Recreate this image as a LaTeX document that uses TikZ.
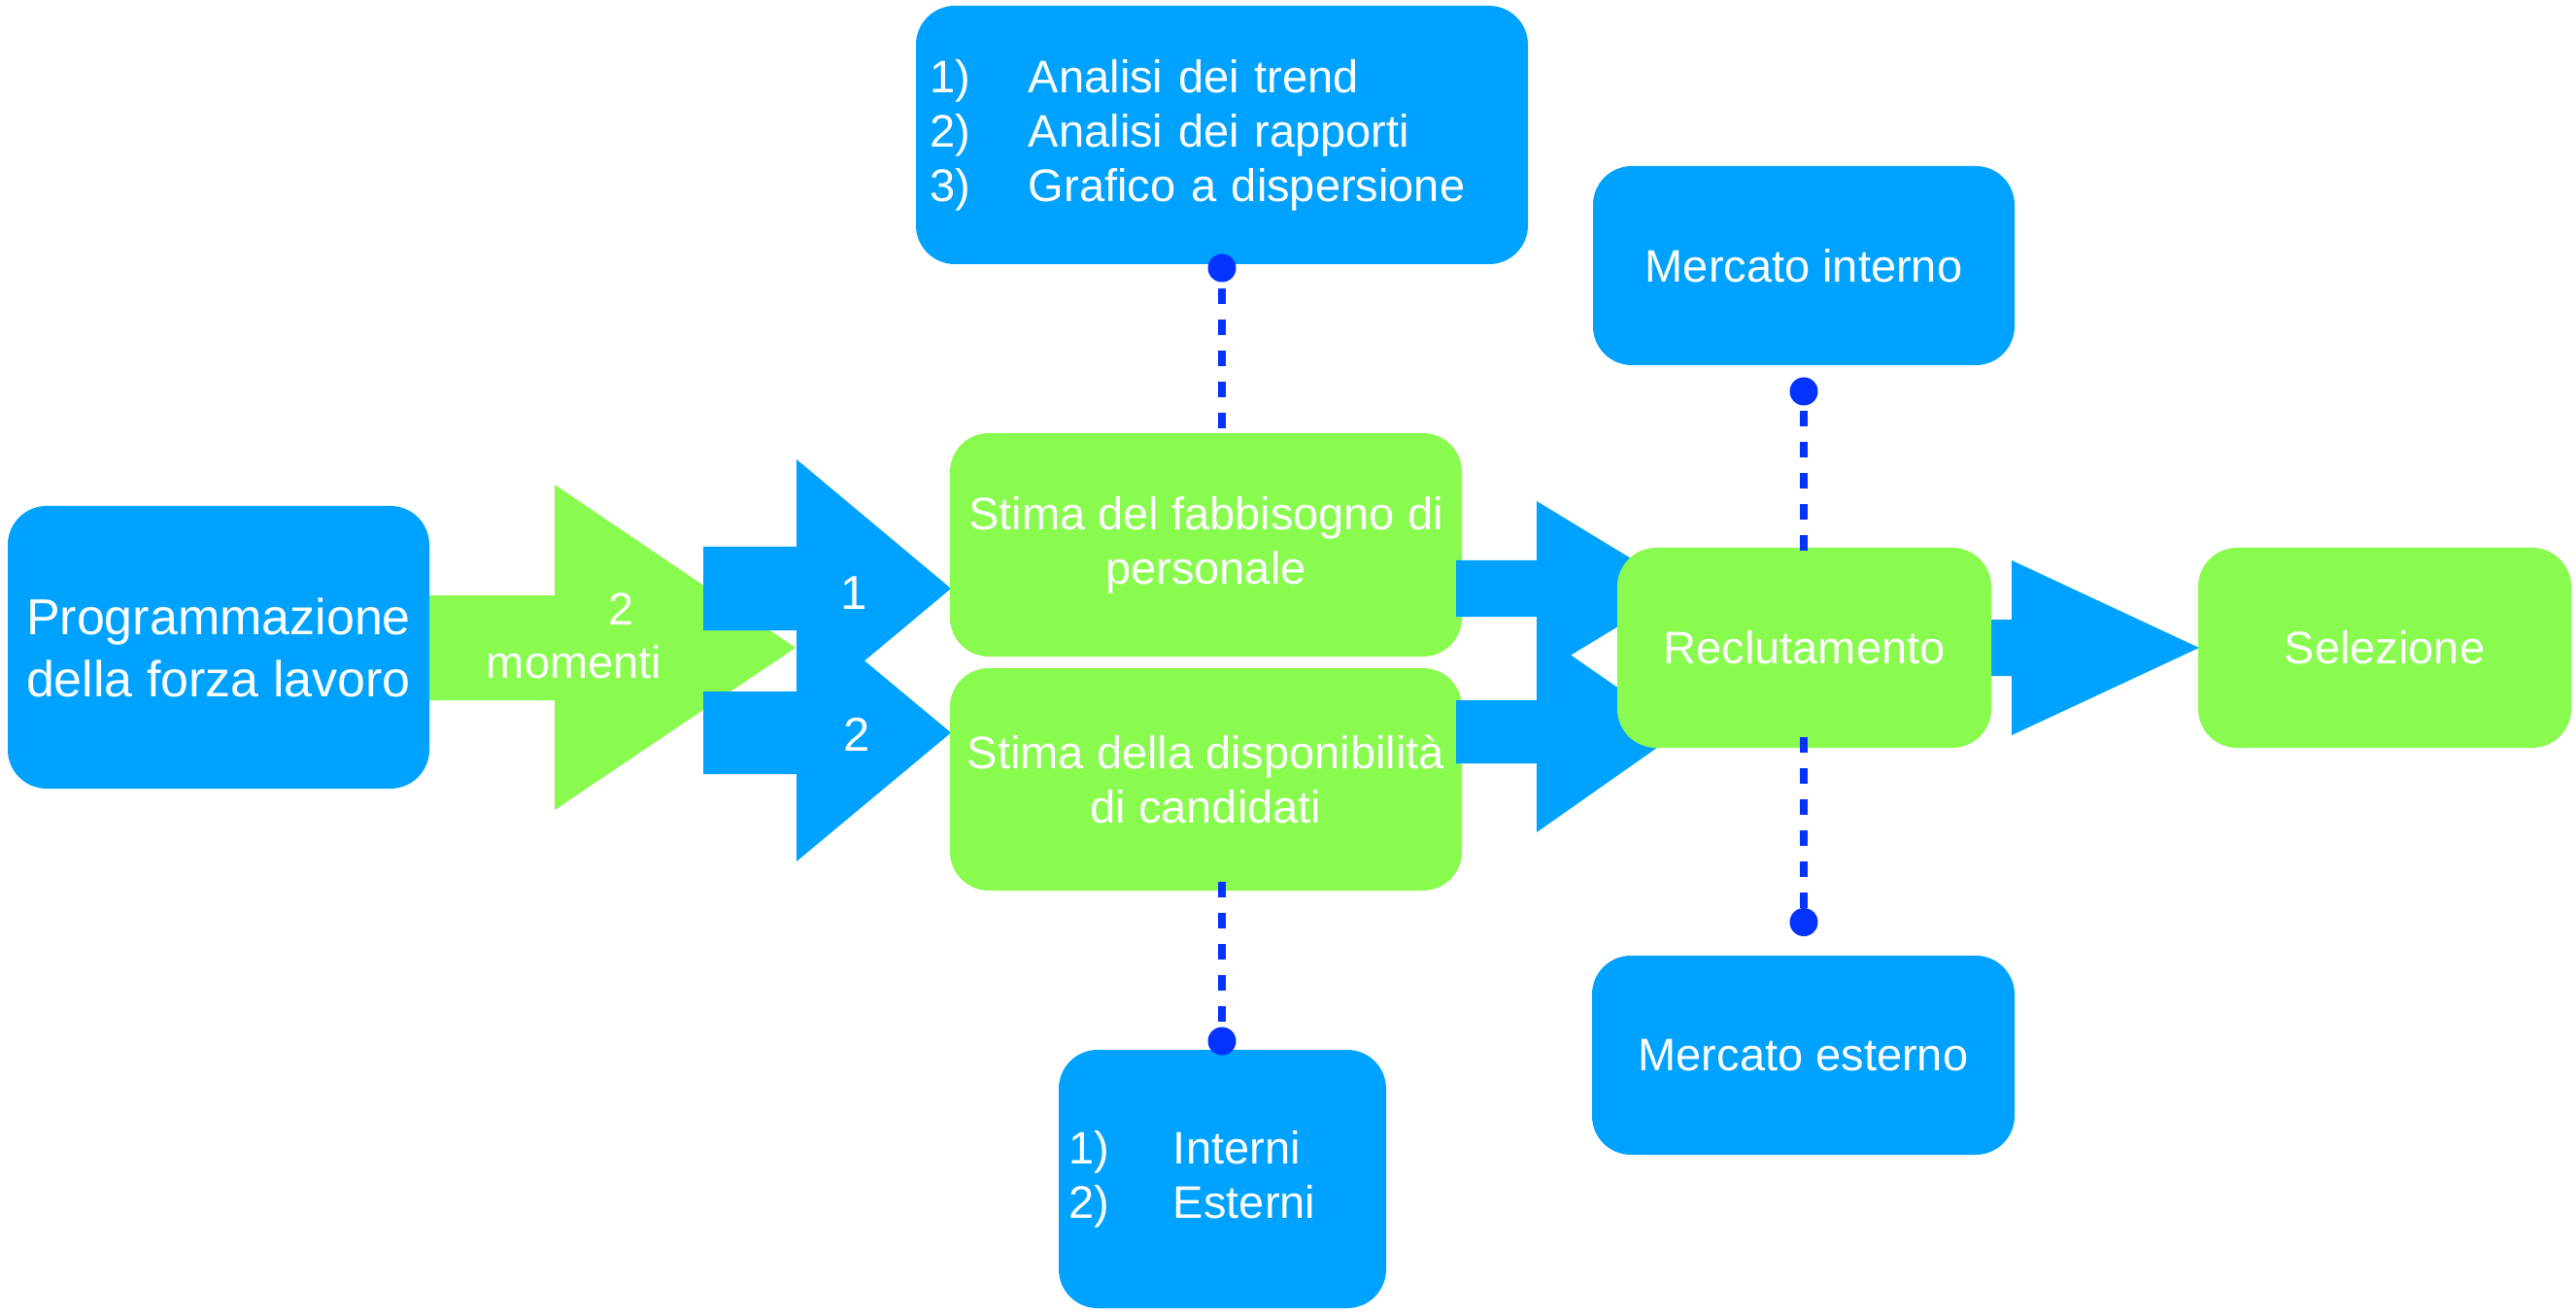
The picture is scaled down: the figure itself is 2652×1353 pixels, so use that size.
\documentclass[tikz,border=0pt]{standalone}
\usepackage{fontspec}
\setmainfont{Liberation Sans}
\definecolor{boxblue}{RGB}{0,162,255}
\definecolor{boxgreen}{RGB}{137,250,78}
\definecolor{dotblue}{RGB}{4,51,255}
\newcommand\listnumA[1]{\makebox[51pt][l]{#1}}
\newcommand\listnumB[1]{\makebox[54pt][l]{#1}}
\begin{document}
\begin{tikzpicture}[x=0.5pt,y=-0.5pt,
  box/.style={rounded corners=20pt, inner sep=0pt, text=white, align=center,
              font=\fontsize{23.5}{28}\selectfont},
  bluebox/.style={box, fill=boxblue},
  greenbox/.style={box, fill=boxgreen},
  lbl/.style={text=white, inner sep=0pt, font=\fontsize{23.5}{28}\selectfont},
  biglbl/.style={text=white, inner sep=0pt, font=\fontsize{24.5}{28}\selectfont},
  dotmark/.style={circle, fill=dotblue, minimum size=14.5pt, inner sep=0pt},
  dashline/.style={draw=dotblue, line width=4pt, dash pattern=on 8pt off 8pt}]
\useasboundingbox (0,0) rectangle (2652,1353);

% green block arrow "2 momenti"
\fill[boxgreen] (442,613) -- (571,613) -- (571,499) -- (819,667) -- (571,834)
  -- (571,721) -- (442,721) -- cycle;

\node[bluebox, minimum width=217pt, minimum height=145.5pt,
      font=\fontsize{26}{32}\selectfont] (prog) at (225,666.5)
      {Programmazione\\della forza lavoro};

% blue block arrows 1 and 2
\fill[boxblue] (724,563) -- (820,563) -- (820,473) -- (979,606) -- (820,739)
  -- (820,649) -- (724,649) -- cycle;
\fill[boxblue] (724,712) -- (820,712) -- (820,622) -- (979,754.5) -- (820,887)
  -- (820,797) -- (724,797) -- cycle;

\node[greenbox, minimum width=263.5pt, minimum height=115pt] (fab) at (1241.5,561)
      {Stima del fabbisogno di\\personale};
\node[greenbox, minimum width=263.5pt, minimum height=114.5pt] (disp) at (1241.5,802.5)
      {Stima della disponibilità\\di candidati};

% blue block arrows into Reclutamento and Selezione
\fill[boxblue] (1499,577) -- (1582,577) -- (1582,516) -- (1730,606) -- (1582,696)
  -- (1582,635) -- (1499,635) -- cycle;
\fill[boxblue] (1499,721) -- (1582,721) -- (1582,650) -- (1730,753) -- (1582,857)
  -- (1582,786) -- (1499,786) -- cycle;
\fill[boxblue] (2049,638) -- (2071,638) -- (2071,577) -- (2264,667) -- (2071,757)
  -- (2071,696) -- (2049,696) -- cycle;

\node[greenbox, minimum width=192.5pt, minimum height=103pt] (reclut) at (1857.5,667)
      {Reclutamento};
\node[greenbox, minimum width=192pt, minimum height=103pt] (sel) at (2455,667)
      {Selezione};
\node[bluebox, minimum width=217pt, minimum height=102.5pt] (mint) at (1857,273.5)
      {Mercato interno};
\node[bluebox, minimum width=217.5pt, minimum height=102.5pt] (mest) at (1856.5,1086.5)
      {Mercato esterno};
\node[bluebox, minimum width=315pt, minimum height=133pt, text width=301pt,
      inner xsep=7pt, align=left] (trend) at (1258,139)
      {\listnumA{1)}Analisi dei trend\\\listnumA{2)}Analisi dei rapporti\\\listnumA{3)}Grafico a dispersione};
\node[bluebox, minimum width=168.5pt, minimum height=133pt, text width=158.5pt,
      inner xsep=5pt, align=left] (cand) at (1258.5,1214)
      {\listnumB{1)}Interni\\\listnumB{2)}Esterni};

% labels on the block arrows
\node[lbl, anchor=base] (m2) at (640,643) {2};
\node[lbl, anchor=base] (mom) at (591,698) {momenti};
\node[biglbl, anchor=base] (n1) at (879,627) {1};
\node[biglbl, anchor=base] (n2) at (882,773) {2};

% dotted connectors
\node[dotmark] (d1) at (1258,276) {};
\node[dotmark] (d2) at (1258,1072) {};
\node[dotmark] (d3) at (1857,403) {};
\node[dotmark] (d4) at (1857,949.5) {};
\coordinate (c2) at (1258,907);
\coordinate (c3) at (1857,567);
\coordinate (c4) at (1857,758);
\draw[dashline, shorten <=3.25pt] (d1) -- (d1 |- fab.north);
\draw[dashline, shorten <=2.75pt] (d2) -- (c2);
\draw[dashline, shorten <=2.75pt] (d3) -- (c3);
\draw[dashline] (d4) -- (c4);
\end{tikzpicture}
\end{document}
